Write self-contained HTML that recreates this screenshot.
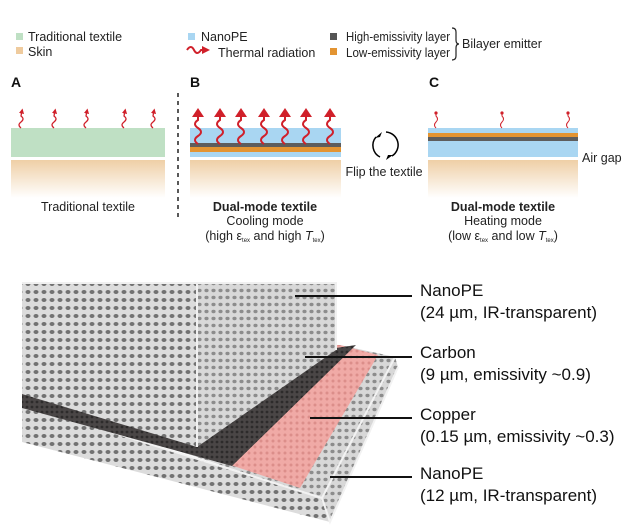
<!DOCTYPE html>
<html><head><style>
body{margin:0;background:#fff;width:629px;height:527px;overflow:hidden;font-family:"Liberation Sans",sans-serif}
</style></head><body>
<svg width="629" height="527" xmlns="http://www.w3.org/2000/svg" font-family="Liberation Sans, sans-serif">
<defs>
<linearGradient id="sk" x1="0" y1="0" x2="0" y2="1"><stop offset="0" stop-color="#efcfa6"/><stop offset="1" stop-color="#fff"/></linearGradient>
<pattern id="holes" width="8" height="8" patternUnits="userSpaceOnUse"><rect width="8" height="8" fill="#dcdcdc"/><ellipse cx="4" cy="4" rx="2.5" ry="2" fill="#727272"/></pattern>
<pattern id="holes2" width="7" height="7" patternUnits="userSpaceOnUse"><rect width="7" height="7" fill="#d8d8d8"/><ellipse cx="3.5" cy="3.5" rx="2.1" ry="1.7" fill="#8c8c8c"/></pattern>
<pattern id="carb" width="5" height="5" patternUnits="userSpaceOnUse"><rect width="5" height="5" fill="#4a4646"/><circle cx="2" cy="2" r="1.4" fill="#2d2b2b"/></pattern>
<pattern id="cu" width="6" height="6" patternUnits="userSpaceOnUse"><rect width="6" height="6" fill="#f0aaa6"/><circle cx="3" cy="3" r="1.5" fill="#dc8e8a"/></pattern>
<marker id="ah" viewBox="0 0 10 10" refX="5" refY="5" markerWidth="4" markerHeight="4" orient="auto"><path d="M0,0L10,5L0,10z" fill="#d0202a"/></marker>
</defs>
<g font-size="12.5" fill="#222">
<rect x="16" y="33" width="7" height="7" fill="#bfe0c4"/><text x="28" y="41">Traditional textile</text>
<rect x="16" y="47" width="7" height="7" fill="#efcb9e"/><text x="28" y="56">Skin</text>
<rect x="188" y="33" width="7" height="7" fill="#a9d6f2"/><text x="201" y="41">NanoPE</text>
<path d="M187,50 q4,-6 7,0 q3,6 7,0 l5,0" stroke="#d0202a" stroke-width="2" fill="none" marker-end="url(#ah)"/><text x="218" y="57">Thermal radiation</text>
<rect x="330" y="33" width="7" height="7" fill="#555"/><text x="346" y="41" textLength="104" lengthAdjust="spacingAndGlyphs">High-emissivity layer</text>
<rect x="330" y="48" width="7" height="7" fill="#e39432"/><text x="346" y="57" textLength="104" lengthAdjust="spacingAndGlyphs">Low-emissivity layer</text>
<path d="M452,28 q4,0 4,4 v8 q0,4 3,4 q-3,0 -3,4 v8 q0,4 -4,4" stroke="#222" stroke-width="1.2" fill="none"/>
<text x="462" y="48">Bilayer emitter</text>
</g>
<g font-size="14" font-weight="bold" fill="#111"><text x="11" y="87">A</text><text x="190" y="87">B</text><text x="429" y="87">C</text></g>
<line x1="178" y1="93" x2="178" y2="220" stroke="#222" stroke-width="1.5" stroke-dasharray="4,4"/>
<!-- A -->
<rect x="11" y="128" width="154" height="29" fill="#bfe0c4"/>
<rect x="11" y="160" width="154" height="38" fill="url(#sk)"/>
<g stroke="#d0202a" stroke-width="1.3" fill="none" marker-end="url(#ah)">
<path d="M21,128 q-4,-3 0,-6 q4,-3 0,-6 l1,-5"/><path d="M54,128 q-4,-3 0,-6 q4,-3 0,-6 l1,-5"/><path d="M86,128 q-4,-3 0,-6 q4,-3 0,-6 l1,-5"/><path d="M124,128 q-4,-3 0,-6 q4,-3 0,-6 l1,-5"/><path d="M153,128 q-4,-3 0,-6 q4,-3 0,-6 l1,-5"/>
</g>
<text x="88" y="211" font-size="12.5" text-anchor="middle" fill="#222">Traditional textile</text>
<!-- B -->
<rect x="190" y="128" width="151" height="29" fill="#a9d6f2"/>
<rect x="190" y="143" width="151" height="4" fill="#5d5d5d"/>
<rect x="190" y="147" width="151" height="5" fill="#e39432"/>
<rect x="190" y="160" width="151" height="38" fill="url(#sk)"/>
<g stroke="#d0202a" stroke-width="2" fill="none">
<path d="M198,144 q-6,-4 0,-8 q6,-4 0,-8 q-6,-4 0,-8 l0,-4"/><path d="M220,144 q-6,-4 0,-8 q6,-4 0,-8 q-6,-4 0,-8 l0,-4"/><path d="M241,144 q-6,-4 0,-8 q6,-4 0,-8 q-6,-4 0,-8 l0,-4"/><path d="M264,144 q-6,-4 0,-8 q6,-4 0,-8 q-6,-4 0,-8 l0,-4"/><path d="M285,144 q-6,-4 0,-8 q6,-4 0,-8 q-6,-4 0,-8 l0,-4"/><path d="M306,144 q-6,-4 0,-8 q6,-4 0,-8 q-6,-4 0,-8 l0,-4"/><path d="M330,144 q-6,-4 0,-8 q6,-4 0,-8 q-6,-4 0,-8 l0,-4"/>
</g>
<g fill="#d0202a"><path d="M192,117 l6,-9 l6,9z"/><path d="M214,117 l6,-9 l6,9z"/><path d="M235,117 l6,-9 l6,9z"/><path d="M258,117 l6,-9 l6,9z"/><path d="M279,117 l6,-9 l6,9z"/><path d="M300,117 l6,-9 l6,9z"/><path d="M324,117 l6,-9 l6,9z"/></g>
<g font-size="12.5" text-anchor="middle" fill="#222">
<text x="265" y="211" font-weight="bold">Dual-mode textile</text>
<text x="265" y="225">Cooling mode</text>
<text x="265" y="240">(high ε<tspan font-size="6" dy="2">tex</tspan><tspan dy="-2"> and high </tspan><tspan font-style="italic">T</tspan><tspan font-size="6" dy="2">tex</tspan><tspan dy="-2">)</tspan></text>
</g>
<!-- flip -->
<path d="M376,137 A13,13 0 0 0 380,157" stroke="#000" stroke-width="1.5" fill="none"/>
<path d="M386,132 A13,13 0 0 1 392,156" stroke="#000" stroke-width="1.5" fill="none"/>
<path d="M375,138 l7,-6 l-2,5z" fill="#000"/><path d="M393,155 l-7,5 l2,-5z" fill="#000"/>
<text x="384" y="176" font-size="12.5" text-anchor="middle" fill="#222">Flip the textile</text>
<!-- C -->
<rect x="428" y="128" width="150" height="29" fill="#a9d6f2"/>
<rect x="428" y="133" width="150" height="4" fill="#e39432"/>
<rect x="428" y="137" width="150" height="4" fill="#5d5d5d"/>
<rect x="428" y="160" width="150" height="38" fill="url(#sk)"/>
<g stroke="#d0202a" stroke-width="1" fill="none"><path d="M436,128 q-3,-3 0,-6 q3,-3 0,-6 l0,-4"/><path d="M502,128 q-3,-3 0,-6 q3,-3 0,-6 l0,-4"/><path d="M568,128 q-3,-3 0,-6 q3,-3 0,-6 l0,-4"/></g>
<g fill="#d0202a"><circle cx="436" cy="113" r="1.6"/><circle cx="502" cy="113" r="1.6"/><circle cx="568" cy="113" r="1.6"/></g>
<text x="582" y="162" font-size="12.5" fill="#222">Air gap</text>
<g font-size="12.5" text-anchor="middle" fill="#222">
<text x="503" y="211" font-weight="bold">Dual-mode textile</text>
<text x="503" y="225">Heating mode</text>
<text x="503" y="240">(low ε<tspan font-size="6" dy="2">tex</tspan><tspan dy="-2"> and low </tspan><tspan font-style="italic">T</tspan><tspan font-size="6" dy="2">tex</tspan><tspan dy="-2">)</tspan></text>
</g>
<!-- 3D stack -->
<polygon points="22,404 322,498 330,522 22,442" fill="url(#holes)"/>
<polygon points="322,498 395,357 398,367 330,522" fill="url(#holes2)"/>
<polygon points="22,400 322,498 395,357 340,345 22,340" fill="url(#holes2)"/>
<path d="M22,404 L322,498 L395,357 M322,498 L330,522 L398,367" stroke="#f2f2f2" stroke-width="2" fill="none"/>
<polygon points="22,396 300,488 378,355 340,345 22,340" fill="url(#cu)"/>
<polygon points="22,390 197,446 336,348 356,345 232,466 22,408" fill="url(#carb)"/>
<polygon points="22,283 197,283 197,447 22,394" fill="url(#holes)"/>
<polygon points="197,283 336,283 336,350 197,447" fill="url(#holes2)"/>
<path d="M22,283 L336,283 L336,350 M197,283 L197,447" stroke="#f0f0f0" stroke-width="2" fill="none"/>
<g stroke="#111" stroke-width="2"><line x1="295" y1="296" x2="412" y2="296"/><line x1="305" y1="357" x2="412" y2="357"/><line x1="310" y1="418" x2="412" y2="418"/><line x1="330" y1="477" x2="412" y2="477"/></g>
<g font-size="17" fill="#111">
<text x="420" y="296">NanoPE</text><text x="420" y="318">(24 µm, IR-transparent)</text>
<text x="420" y="358">Carbon</text><text x="420" y="380">(9 µm, emissivity ~0.9)</text>
<text x="420" y="420">Copper</text><text x="420" y="442">(0.15 µm, emissivity ~0.3)</text>
<text x="420" y="479">NanoPE</text><text x="420" y="501">(12 µm, IR-transparent)</text>
</g>
</svg>
</body></html>
